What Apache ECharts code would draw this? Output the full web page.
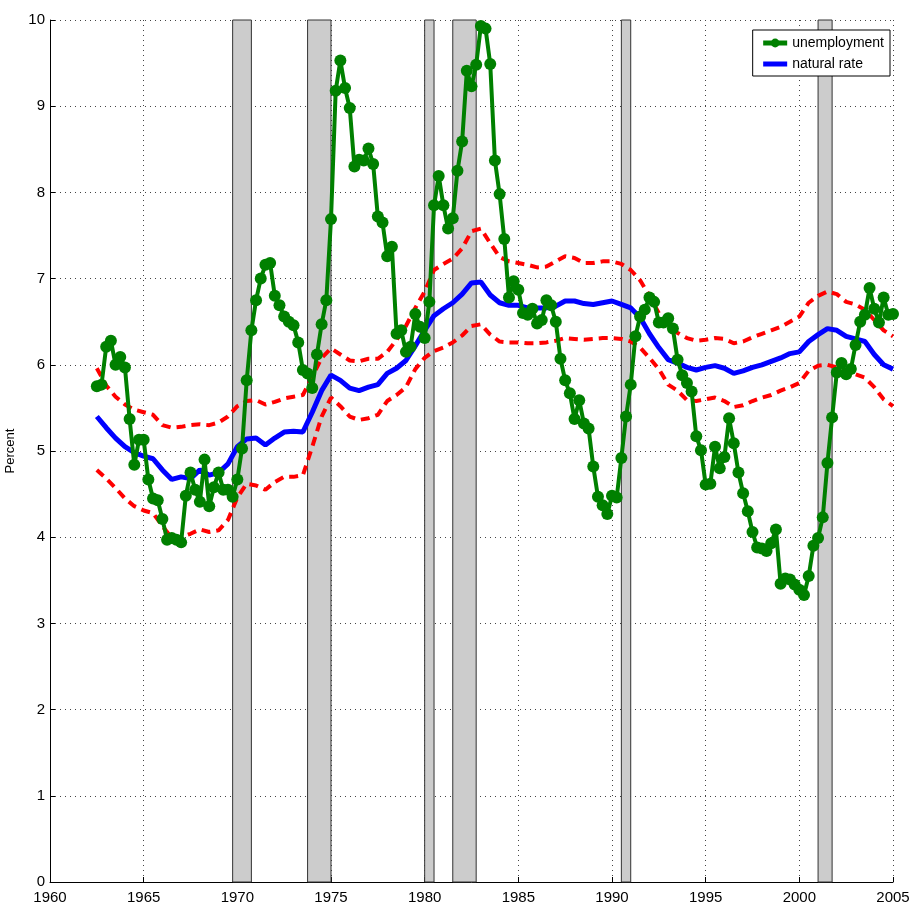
<!DOCTYPE html>
<html>
<head>
<meta charset="utf-8">
<script src="https://cdn.jsdelivr.net/npm/echarts@6/dist/echarts.min.js"></script>
<style>
  html, body { margin: 0; padding: 0; background: #fff; }
  #chart { width: 912px; height: 909px; }
</style>
</head>
<body>
<div id="chart"></div>
<script>
// quarterly unemployment, first value is 1962 Q3 (1962.5), last is 2005.0
const unempStart = 1962.5;
const unemployment = [
  5.75, 5.77,                 // 1962
  6.21, 6.28, 6.00, 6.09,     // 1963
  5.97, 5.37, 4.84, 5.13,     // 1964
  5.13, 4.67, 4.45, 4.43,     // 1965
  4.21, 3.97, 3.99, 3.97,     // 1966
  3.94, 4.48, 4.75, 4.55,     // 1967
  4.41, 4.90, 4.36, 4.58,     // 1968
  4.75, 4.55, 4.55, 4.47,     // 1969
  4.67, 5.03, 5.82, 6.40,     // 1970
  6.75, 7.00, 7.16, 7.18,     // 1971
  6.80, 6.69, 6.56, 6.50,     // 1972
  6.46, 6.26, 5.94, 5.90,     // 1973
  5.73, 6.12, 6.47, 6.75,     // 1974
  7.69, 9.18, 9.53, 9.21,     // 1975
  8.98, 8.30, 8.38, 8.37,     // 1976
  8.51, 8.33, 7.72, 7.65,     // 1977
  7.26, 7.37, 6.36, 6.40,     // 1978
  6.15, 6.21, 6.59, 6.44,     // 1979
  6.31, 6.73, 7.85, 8.19,     // 1980
  7.85, 7.58, 7.70, 8.25,     // 1981
  8.59, 9.41, 9.23, 9.48,     // 1982
  9.93, 9.90, 9.49, 8.37,     // 1983
  7.98, 7.46, 6.78, 6.97,     // 1984
  6.87, 6.60, 6.58, 6.65,     // 1985
  6.48, 6.52, 6.75, 6.69,     // 1986
  6.50, 6.07, 5.82, 5.67,     // 1987
  5.37, 5.59, 5.32, 5.26,     // 1988
  4.82, 4.47, 4.37, 4.27,     // 1989
  4.48, 4.46, 4.92, 5.40,     // 1990
  5.77, 6.33, 6.56, 6.64,     // 1991
  6.78, 6.73, 6.49, 6.49,     // 1992
  6.54, 6.42, 6.06, 5.88,     // 1993
  5.79, 5.69, 5.17, 5.01,     // 1994
  4.61, 4.62, 5.05, 4.80,     // 1995
  4.93, 5.38, 5.09, 4.75,     // 1996
  4.51, 4.30, 4.06, 3.88,     // 1997
  3.87, 3.84, 3.93, 4.09,     // 1998
  3.46, 3.52, 3.51, 3.45,     // 1999
  3.39, 3.33, 3.55, 3.90,     // 2000
  3.99, 4.23, 4.86, 5.39,     // 2001
  5.91, 6.02, 5.89, 5.95,     // 2002
  6.23, 6.50, 6.58, 6.89,     // 2003
  6.65, 6.49, 6.78, 6.58,     // 2004
  6.59                        // 2005
];

// natural rate and its band, read every half year from 1962.5
const rateStart = 1962.5;
const naturalRate = [
  5.40, 5.27, 5.15, 5.05, 4.98, 4.94, 4.91, 4.78, 4.67, 4.70,
  4.68, 4.78, 4.72, 4.75, 4.85, 5.05, 5.14, 5.15, 5.07, 5.15,
  5.22, 5.23, 5.22, 5.45, 5.70, 5.88, 5.82, 5.73, 5.70, 5.74,
  5.77, 5.90, 5.96, 6.05, 6.22, 6.40, 6.57, 6.65, 6.72, 6.82,
  6.95, 6.96, 6.81, 6.72, 6.69, 6.69, 6.66, 6.66, 6.66, 6.68,
  6.74, 6.74, 6.71, 6.70, 6.72, 6.74, 6.70, 6.66, 6.55, 6.36,
  6.20, 6.06, 6.02, 5.97, 5.94, 5.97, 5.99, 5.96, 5.90, 5.93,
  5.97, 6.00, 6.04, 6.08, 6.13, 6.15, 6.27, 6.35, 6.42, 6.40,
  6.33, 6.30, 6.27, 6.12, 6.00, 5.95
];
const upperBand = [
  5.96, 5.76, 5.63, 5.54, 5.48, 5.45, 5.42, 5.30, 5.27, 5.28,
  5.30, 5.31, 5.30, 5.33, 5.40, 5.52, 5.58, 5.59, 5.54, 5.57,
  5.61, 5.63, 5.65, 5.86, 6.08, 6.19, 6.12, 6.05, 6.04, 6.07,
  6.07, 6.15, 6.29, 6.45, 6.66, 6.85, 7.10, 7.17, 7.23, 7.35,
  7.55, 7.58, 7.41, 7.25, 7.20, 7.18, 7.16, 7.13, 7.14, 7.20,
  7.26, 7.24, 7.18, 7.18, 7.20, 7.20, 7.17, 7.10, 6.98, 6.80,
  6.60, 6.45, 6.37, 6.31, 6.28, 6.29, 6.31, 6.30, 6.25, 6.27,
  6.32, 6.36, 6.40, 6.44, 6.50, 6.56, 6.72, 6.80, 6.85, 6.82,
  6.73, 6.70, 6.64, 6.52, 6.40, 6.33
];
const lowerBand = [
  4.78, 4.68, 4.57, 4.45, 4.36, 4.31, 4.28, 4.13, 3.99, 4.00,
  4.04, 4.09, 4.06, 4.08, 4.20, 4.46, 4.62, 4.60, 4.55, 4.64,
  4.70, 4.70, 4.72, 5.05, 5.40, 5.62, 5.52, 5.40, 5.36, 5.38,
  5.42, 5.58, 5.65, 5.74, 5.95, 6.08, 6.16, 6.20, 6.26, 6.34,
  6.45, 6.47, 6.35, 6.27, 6.26, 6.26, 6.25, 6.25, 6.26, 6.28,
  6.31, 6.30, 6.29, 6.30, 6.31, 6.31, 6.30, 6.27, 6.20, 6.08,
  5.95, 5.77, 5.70, 5.59, 5.58, 5.60, 5.62, 5.58, 5.51, 5.53,
  5.58, 5.62, 5.65, 5.70, 5.74, 5.79, 5.93, 5.99, 6.00, 5.97,
  5.91, 5.89, 5.85, 5.74, 5.60, 5.52
];

// recessions (shaded)
const recessionStart = [1969.75, 1973.75, 1980.0, 1981.5, 1990.5, 2001.0];
const recessionEnd   = [1970.75, 1975.0, 1980.5, 1982.75, 1991.0, 2001.75];

const xTicks = [1960, 1965, 1970, 1975, 1980, 1985, 1990, 1995, 2000, 2005];

function pairs(start, step, vals) {
  return vals.map((v, i) => [start + i * step, v]);
}

const labelFont = "'Liberation Sans', Arial, sans-serif";

let chart = echarts.init(document.getElementById("chart"));
let option = {
  animation: false,
  backgroundColor: "#fff",
  grid: { left: 50, right: 19, top: 20, bottom: 27, outerBoundsMode: "none", containLabel: false },
  legend: {
    orient: "vertical",
    right: 22,
    top: 30,
    data: [
      { name: "unemployment" },
      { name: "natural rate", itemStyle: { opacity: 0 } },
    ],
    backgroundColor: "#fff",
    borderColor: "#000",
    borderWidth: 1,
    borderRadius: 0,
    padding: [6, 6, 5, 8],
    itemGap: 7,
    itemWidth: 24,
    itemHeight: 11,
    lineStyle: { width: 5 },
    textStyle: { color: "#000", fontSize: 14, fontFamily: labelFont },
  },
  xAxis: {
    type: "value",
    min: xTicks[0],
    max: xTicks[xTicks.length - 1],
    interval: 5,
    axisLine: { lineStyle: { color: "#000", width: 1 } },
    axisTick: { inside: true, length: 5, lineStyle: { color: "#000" } },
    axisLabel: {
      color: "#000",
      fontSize: 15,
      fontFamily: labelFont,
      margin: 8,
      formatter: (v) => String(v),
    },
    splitLine: {
      show: true,
      lineStyle: { color: "#444", width: 1, type: [1, 4] },
    },
  },
  yAxis: {
    type: "value",
    min: 0,
    max: 10,
    interval: 1,
    name: "Percent",
    nameLocation: "middle",
    nameGap: 13,
    nameTextStyle: { color: "#000", fontSize: 13, fontFamily: labelFont },
    axisLine: { show: true, lineStyle: { color: "#000", width: 1 } },
    axisTick: { show: true, inside: true, length: 5, lineStyle: { color: "#000" } },
    axisLabel: { color: "#000", fontSize: 15, fontFamily: labelFont, margin: 5 },
    splitLine: {
      show: true,
      lineStyle: { color: "#444", width: 1, type: [1, 4] },
    },
  },
  series: [
    {
      name: "upper",
      type: "line",
      data: pairs(rateStart, 0.5, upperBand),
      symbol: "none",
      lineStyle: { color: "#ff0000", width: 4, type: [9, 6] },
      markArea: {
        silent: true,
        itemStyle: { color: "#cccccc", borderColor: "#333", borderWidth: 1 },
        data: recessionStart.map((s, i) => [
          { xAxis: s, yAxis: 0 },
          { xAxis: recessionEnd[i], yAxis: 10 },
        ]),
      },
    },
    {
      name: "lower",
      type: "line",
      data: pairs(rateStart, 0.5, lowerBand),
      symbol: "none",
      lineStyle: { color: "#ff0000", width: 4, type: [9, 6] },
    },
    {
      name: "natural rate",
      type: "line",
      data: pairs(rateStart, 0.5, naturalRate),
      symbol: "none",
      itemStyle: { color: "#0000ff" },
      lineStyle: { color: "#0000ff", width: 5 },
    },
    {
      name: "unemployment",
      type: "line",
      data: pairs(unempStart, 0.25, unemployment),
      symbol: "circle",
      symbolSize: 12,
      itemStyle: { color: "#008000" },
      lineStyle: { color: "#008000", width: 4 },
    },
  ],
};
chart.setOption(option);
</script>
</body>
</html>
